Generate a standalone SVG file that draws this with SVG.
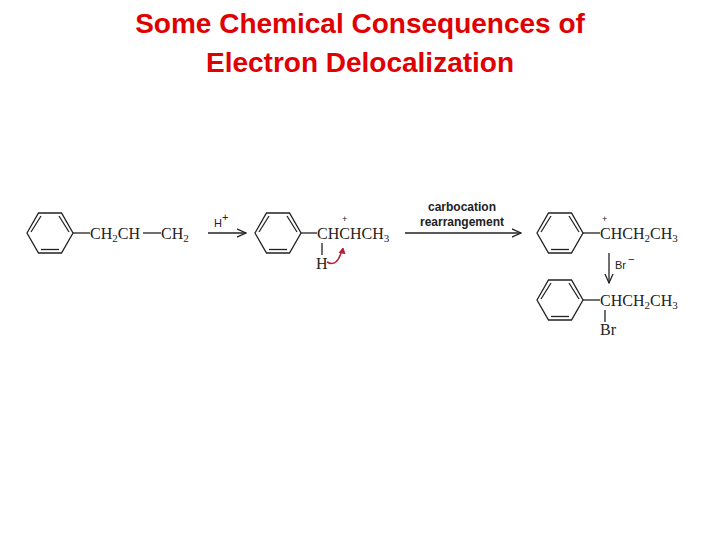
<svg xmlns="http://www.w3.org/2000/svg" width="720" height="540" viewBox="0 0 720 540">
<defs>
<style>
.t{font-family:"Liberation Serif",serif;font-size:16px;fill:#222}
.s{font-family:"Liberation Sans",sans-serif;font-size:11px;fill:#222}
.p{font-family:"Liberation Sans",sans-serif;font-size:9px;fill:#222}
.b{font-family:"Liberation Sans",sans-serif;font-weight:bold;font-size:12px;fill:#222}
.l{stroke:#222;stroke-width:1.3;fill:none}
.ti{font-family:"Liberation Sans",sans-serif;font-size:28px;font-weight:bold;fill:#e00000;text-anchor:middle}
</style>
<marker id="a" viewBox="0 0 10 10" refX="9" refY="5" markerWidth="8" markerHeight="8" orient="auto"><path d="M0,1 L9,5 L0,9" fill="none" stroke="#222" stroke-width="1.2"/></marker>
<g id="bz">
<polygon class="l" points="-23,0 -11.5,-20 11.5,-20 23,0 11.5,20 -11.5,20"/>
<line class="l" x1="-19" y1="-1" x2="-9" y2="-17"/>
<line class="l" x1="-9" y1="16.5" x2="9" y2="16.5"/>
<line class="l" x1="19" y1="-1" x2="9" y2="-17"/>
</g>
</defs>
<rect width="720" height="540" fill="#fff"/>
<text class="ti" x="360" y="33">Some Chemical Consequences of</text>
<text class="ti" x="360" y="72">Electron Delocalization</text>
<g id="m1"><use href="#bz" x="50" y="233"/><line class="l" x1="73" y1="233" x2="90" y2="233"/>
<text class="t" x="90" y="239">CH<tspan font-size="11" dy="3">2</tspan><tspan dy="-3">CH</tspan></text>
<line class="l" x1="143" y1="233" x2="161" y2="233"/>
<text class="t" x="161" y="239">CH<tspan font-size="11" dy="3">2</tspan></text></g>
<g id="m2"><use href="#bz" x="278" y="233"/><line class="l" x1="301" y1="233" x2="317" y2="233"/>
<text class="t" x="317" y="239">CHCHCH<tspan font-size="11" dy="3">3</tspan></text>
<text class="p" x="342" y="222">+</text>
<line class="l" x1="322" y1="243" x2="322" y2="255"/>
<text class="t" x="316" y="269">H</text>
<path d="M327,262 Q337,268 342,250" fill="none" stroke="#b0203a" stroke-width="1.5"/>
<path d="M339,253 L343,248 L345,254" fill="#b0203a" stroke="#b0203a"/></g>
<g id="m3"><use href="#bz" x="560" y="233"/><line class="l" x1="583" y1="233" x2="600" y2="233"/>
<text class="t" x="600" y="239">CHCH<tspan font-size="11" dy="3">2</tspan><tspan dy="-3">CH</tspan><tspan font-size="11" dy="3">3</tspan></text>
<text class="p" x="602" y="222">+</text></g>
<g id="m4"><use href="#bz" x="560" y="300"/><line class="l" x1="583" y1="300" x2="600" y2="300"/>
<text class="t" x="600" y="306">CHCH<tspan font-size="11" dy="3">2</tspan><tspan dy="-3">CH</tspan><tspan font-size="11" dy="3">3</tspan></text>
<line class="l" x1="605" y1="310" x2="605" y2="322"/>
<text class="t" x="600" y="335">Br</text></g>
<g id="connectors">
<line class="l" x1="208" y1="233" x2="246" y2="233" marker-end="url(#a)"/>
<text class="s" x="214" y="227">H</text><text class="s" font-size="8" x="222" y="221">+</text>
<line class="l" x1="405" y1="233" x2="521" y2="233" marker-end="url(#a)"/>
<text class="b" x="462" y="211" text-anchor="middle">carbocation</text>
<text class="b" x="462" y="226" text-anchor="middle">rearrangement</text>
<line class="l" x1="609" y1="253" x2="609" y2="283" marker-end="url(#a)"/>
<text class="s" x="615" y="269">Br</text><text class="s" font-size="8" x="628" y="263">−</text>
</g>
</svg>
